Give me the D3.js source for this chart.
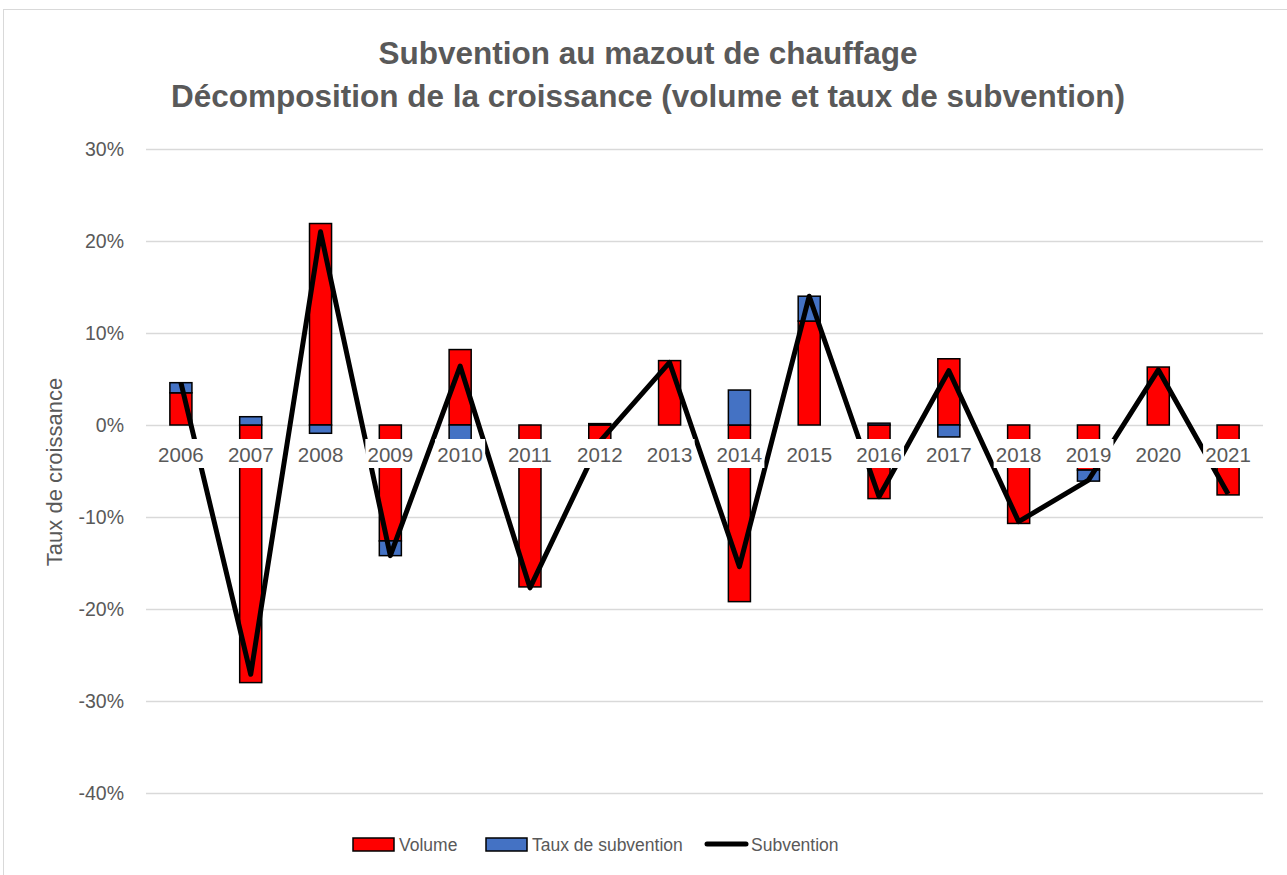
<!DOCTYPE html>
<html>
<head>
<meta charset="utf-8">
<script src="https://cdn.jsdelivr.net/npm/d3@7"></script>
<style>
  html, body { margin: 0; padding: 0; background: #fff; }
  svg { display: block; }
  text { font-family: "Liberation Sans", Arial, sans-serif; }
</style>
</head>
<body>
<svg id="chart" width="1287" height="875"></svg>
<script>
const titleLines = ["Subvention au mazout de chauffage",
                    "Décomposition de la croissance (volume et taux de subvention)"];
const years = ["2006","2007","2008","2009","2010","2011","2012","2013","2014","2015","2016","2017","2018","2019","2020","2021"];
const volume = [3.5, -28.0, 21.9, -12.6, 8.2, -17.6, -1.9, 7.0, -19.2, 11.3, -8.0, 7.2, -10.7, -4.9, 6.3, -7.6];
const tauxSubvention = [1.1, 0.9, -0.9, -1.6, -1.7, 0.0, 0.15, 0.0, 3.8, 2.7, 0.2, -1.3, 0.0, -1.2, 0.0, 0.0];
const subvention = [4.6, -27.1, 21.0, -14.2, 6.4, -17.7, -1.8, 6.8, -15.4, 14.0, -7.8, 5.9, -10.5, -6.0, 6.0, -7.5];
const yTicks = [30, 20, 10, 0, -10, -20, -30, -40];
const seriesNames = ["Volume", "Taux de subvention", "Subvention"];
const seriesColors = ["#FF0000", "#4472C4", "#000000"];
const yAxisTitle = "Taux de croissance";

const svg = d3.select("#chart");
const grey = "#595959";

// chart border
svg.append("rect").attr("x", 3.5).attr("y", 9.5).attr("width", 1300).attr("height", 870)
  .attr("fill", "#fff").attr("stroke", "#d9d9d9").attr("stroke-width", 1);

const x = d3.scaleBand().domain(years).range([146, 1263]).padding(0);
const y = d3.scaleLinear().domain([-40, 30]).range([793, 149]);
const barW = x.bandwidth() * 0.316;

// title
svg.append("g").selectAll("text").data(titleLines).join("text")
  .attr("x", 648).attr("y", (d, i) => 64 + i * 43)
  .attr("text-anchor", "middle")
  .attr("font-size", 31.5).attr("font-weight", "bold")
  .attr("fill", grey).text(d => d);

// gridlines
svg.append("g").selectAll("line").data(yTicks).join("line")
  .attr("x1", 146).attr("x2", 1263)
  .attr("y1", d => Math.round(y(d)) + 0.5).attr("y2", d => Math.round(y(d)) + 0.5)
  .attr("stroke", "#d9d9d9").attr("stroke-width", 1.5);

// y tick labels
svg.append("g").selectAll("text").data(yTicks).join("text")
  .attr("x", 124).attr("y", d => y(d)).attr("dy", "0.36em")
  .attr("text-anchor", "end").attr("font-size", 19.5).attr("fill", grey)
  .text(d => d + "%");

// y axis title
svg.append("text")
  .attr("transform", "translate(62,472) rotate(-90)")
  .attr("text-anchor", "middle").attr("font-size", 22).attr("fill", grey)
  .text(yAxisTitle);

// stacked bars (diverging)
const rows = years.map((yr, i) => ({ year: yr, v: volume[i], t: tauxSubvention[i] }));
const stack = d3.stack().keys(["v", "t"]).offset(d3.stackOffsetDiverging);
const stacked = stack(rows);
svg.append("g").selectAll("g").data(stacked).join("g")
  .attr("fill", (d, i) => seriesColors[i])
  .selectAll("rect").data(d => d).join("rect")
  .attr("x", d => x(d.data.year) + (x.bandwidth() - barW) / 2)
  .attr("y", d => y(Math.max(d[0], d[1])))
  .attr("width", barW)
  .attr("height", d => Math.abs(y(d[0]) - y(d[1])))
  .attr("stroke", "#000").attr("stroke-width", 1.5);

// line
const line = d3.line()
  .x((d, i) => x(years[i]) + x.bandwidth() / 2)
  .y(d => y(d));
svg.append("path").datum(subvention)
  .attr("d", line).attr("fill", "none")
  .attr("stroke", "#000").attr("stroke-width", 5)
  .attr("stroke-linejoin", "round");

// category labels with white background (drawn on top)
const lab = svg.append("g").selectAll("g").data(years).join("g")
  .attr("transform", d => `translate(${x(d) + x.bandwidth() / 2},0)`);
lab.append("rect").attr("x", -25).attr("y", 439).attr("width", 50).attr("height", 29).attr("fill", "#fff");
lab.append("text").attr("x", 0).attr("y", 462)
  .attr("text-anchor", "middle").attr("font-size", 20.5).attr("fill", grey)
  .text(d => d);

// legend
const legend = svg.append("g");
const items = [
  { name: seriesNames[0], type: "rect", color: seriesColors[0], x0: 353 },
  { name: seriesNames[1], type: "rect", color: seriesColors[1], x0: 486 },
  { name: seriesNames[2], type: "line", color: seriesColors[2], x0: 705 }
];
items.forEach(it => {
  if (it.type === "rect") {
    legend.append("rect").attr("x", it.x0).attr("y", 838).attr("width", 41).attr("height", 13)
      .attr("fill", it.color).attr("stroke", "#000").attr("stroke-width", 1.5);
  } else {
    legend.append("line").attr("x1", it.x0 + 2).attr("x2", it.x0 + 41)
      .attr("y1", 844).attr("y2", 844)
      .attr("stroke", it.color).attr("stroke-width", 5).attr("stroke-linecap", "round");
  }
  legend.append("text").attr("x", it.x0 + 46).attr("y", 850.5)
    .attr("font-size", 17.5).attr("fill", grey).text(it.name);
});
</script>
</body>
</html>
